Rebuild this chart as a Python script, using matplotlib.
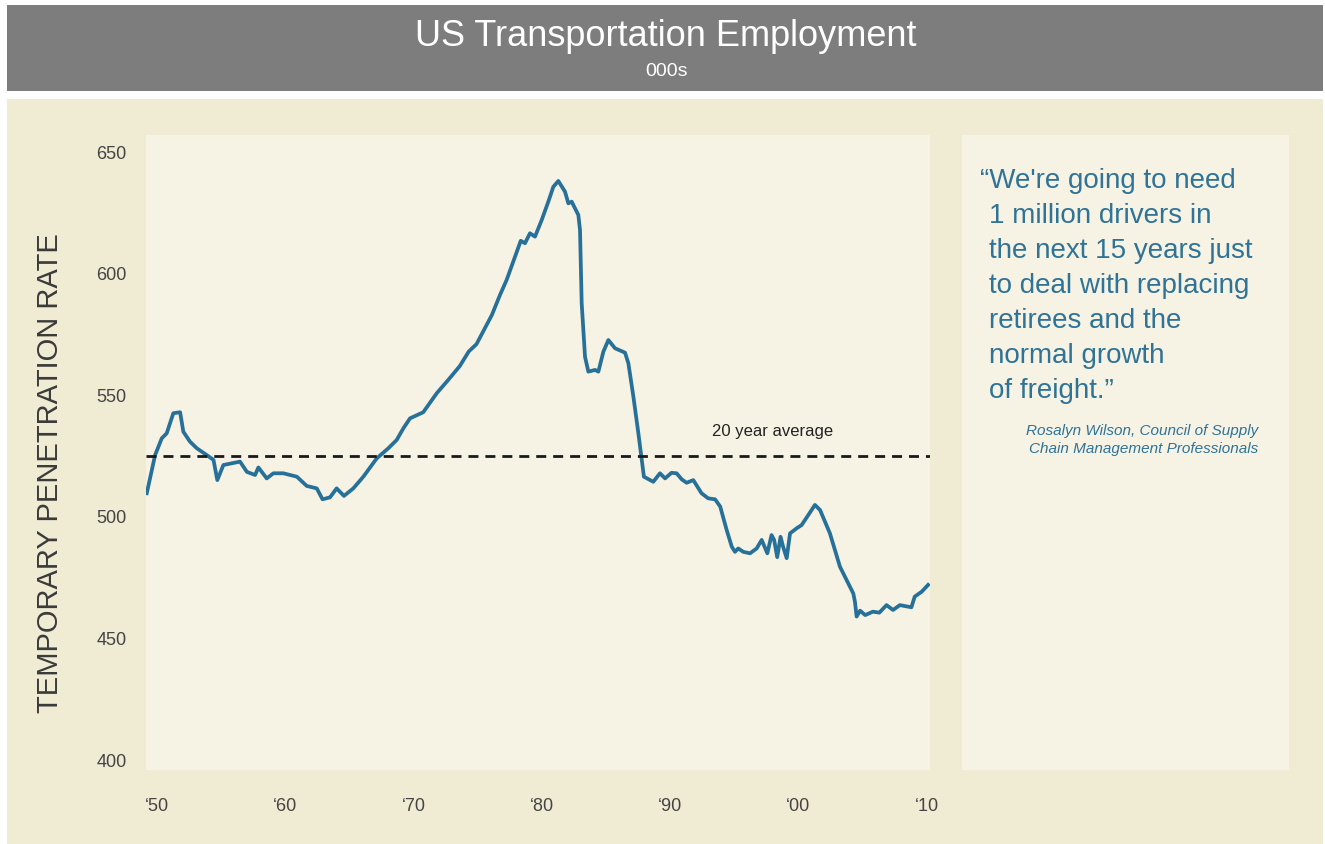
import matplotlib.pyplot as plt
from matplotlib.patches import Rectangle

plt.rcParams['font.family'] = ['Liberation Sans', 'DejaVu Sans']

# transportation employment, 000s
years = [1949.2, 1949.85, 1950.37, 1950.75, 1951.27, 1951.8, 1952.05, 1952.57, 1953.1, 1953.87,
         1954.4, 1954.7, 1955.17, 1956.47, 1957.0, 1957.64, 1957.9, 1958.55, 1959.07, 1959.84,
         1960.9, 1961.67, 1962.45, 1962.9, 1963.48, 1964.0, 1964.57, 1965.3, 1966.08, 1967.12,
         1968.03, 1968.68, 1969.2, 1969.72, 1970.75, 1971.8, 1972.7, 1973.6, 1974.3, 1974.9,
         1975.5, 1976.1, 1976.73, 1977.25, 1977.9, 1978.35, 1978.68, 1979.07, 1979.46, 1979.98,
         1980.5, 1980.89, 1981.28, 1981.8, 1982.06, 1982.32, 1982.84, 1982.97, 1983.1, 1983.36,
         1983.62, 1984.14, 1984.4, 1984.79, 1985.18, 1985.7, 1986.48, 1986.74, 1987.13, 1987.52,
         1987.95, 1988.68, 1989.2, 1989.6, 1990.1, 1990.5, 1990.9, 1991.28, 1991.8, 1992.44,
         1992.96, 1993.5, 1993.9, 1994.4, 1994.8, 1995.05, 1995.3, 1995.7, 1996.22, 1996.74,
         1997.13, 1997.3, 1997.57, 1997.9, 1998.1, 1998.34, 1998.6, 1998.8, 1999.08, 1999.34,
         1999.86, 2000.24, 2000.76, 2001.28, 2001.68, 2002.45, 2003.23, 2003.75, 2004.27, 2004.4,
         2004.53, 2004.8, 2005.2, 2005.8, 2006.3, 2006.86, 2007.37, 2007.9, 2008.8, 2009.06,
         2009.6, 2010.1]
employment = [509.7, 525.4, 532.3, 534.3, 542.6, 543.0, 535.0, 530.9, 528.2, 525.4,
              523.4, 515.1, 521.3, 522.7, 518.5, 517.2, 520.3, 515.8, 517.9, 517.9,
              516.5, 512.7, 511.7, 507.2, 508.0, 511.7, 508.6, 511.7, 516.5, 524.0,
              528.2, 531.6, 536.4, 540.5, 543.0, 550.8, 556.3, 562.0, 568.0, 571.0,
              577.0, 583.0, 591.2, 597.4, 606.9, 613.5, 612.5, 616.6, 615.2, 622.0,
              629.6, 635.7, 638.1, 633.7, 628.9, 629.6, 624.1, 617.9, 587.8, 565.8,
              559.7, 560.4, 559.7, 567.9, 572.7, 569.3, 567.5, 563.1, 549.4, 534.3,
              516.5, 514.4, 517.9, 515.8, 518.1, 517.9, 515.4, 514.0, 515.1, 509.7,
              507.6, 507.2, 504.2, 494.6, 487.7, 485.6, 487.0, 485.6, 485.0, 487.0,
              490.5, 488.4, 485.0, 492.5, 490.5, 483.4, 491.8, 487.7, 483.0, 493.2,
              495.3, 496.6, 500.7, 504.9, 502.8, 493.2, 479.5, 474.0, 468.5, 465.1,
              459.0, 461.4, 459.6, 461.0, 460.6, 463.7, 461.7, 463.7, 462.8, 467.2,
              469.2, 472.0]
avg_20yr = 525

xticks = [1950, 1960, 1970, 1980, 1990, 2000, 2010]
xtick_labels = ['\u201850', '\u201860', '\u201870', '\u201880', '\u201890', '\u201800', '\u201810']
yticks = [400, 450, 500, 550, 600, 650]

quote_lines = ['\u201cWe\'re going to need', '1 million drivers in', 'the next 15 years just',
               'to deal with replacing', 'retirees and the', 'normal growth', 'of freight.\u201d']
source = 'Rosalyn Wilson, Council of Supply\nChain Management Professionals'

W, H = 1325, 844
fig = plt.figure(figsize=(W / 100, H / 100), dpi=100)
fig.patch.set_facecolor('white')

def box(x0, y0, x1, y1, color):
    # pixel coords from the top-left corner
    fig.patches.append(Rectangle((x0 / W, 1 - y1 / H), (x1 - x0) / W, (y1 - y0) / H,
                                 transform=fig.transFigure, facecolor=color,
                                 edgecolor='none', zorder=-5))

box(7, 5, 1323, 91, '#7d7d7d')
box(7, 99, 1323, 844, '#f0ebd3')
box(962, 135, 1289, 770, '#f6f3e5')

fig.text(666 / W, 1 - 36 / H, 'US Transportation Employment', color='white',
         fontsize=26, ha='center', va='center')
fig.text(666 / W, 1 - 71 / H, '000s', color='white', fontsize=14, ha='center', va='center')

ax = fig.add_axes([146 / W, 1 - 770 / H, (930 - 146) / W, (770 - 135) / H])
ax.set_zorder(2)
ax.set_facecolor('#f6f3e5')
ax.plot(years, employment, color='#27709a', lw=2.7, solid_joinstyle='round')
ax.axhline(avg_20yr, color='#1a1a1a', lw=2, dashes=(3.6, 2.5))
ax.text(1998, 535, '20 year average', fontsize=12, ha='center', va='center', color='#222222')

ax.set_xlim(1949.14, 2010.25)
ax.set_ylim(395.9, 657)
ax.set_xticks(xticks)
ax.set_xticklabels(xtick_labels)
ax.set_yticks(yticks)
for s in ax.spines.values():
    s.set_visible(False)
ax.tick_params(axis='both', length=0, labelsize=13, labelcolor='#444444')
ax.tick_params(axis='y', pad=14)
ax.tick_params(axis='x', pad=20)

fig.text(50 / W, 1 - 473 / H, 'TEMPORARY PENETRATION RATE', rotation=90, fontsize=21,
         color='#3a3a3a', ha='center', va='center')

qcolor = '#2f7396'
for i, line in enumerate(quote_lines):
    x = 980 if i == 0 else 989
    fig.text(x / W, 1 - (181 + i * 35) / H, line, fontsize=20, color=qcolor,
             ha='left', va='center')
fig.text(1258 / W, 1 - 440 / H, source, fontsize=11, style='italic', color=qcolor,
         ha='right', va='center', linespacing=1.3)

fig.savefig('out.png', dpi=100)
